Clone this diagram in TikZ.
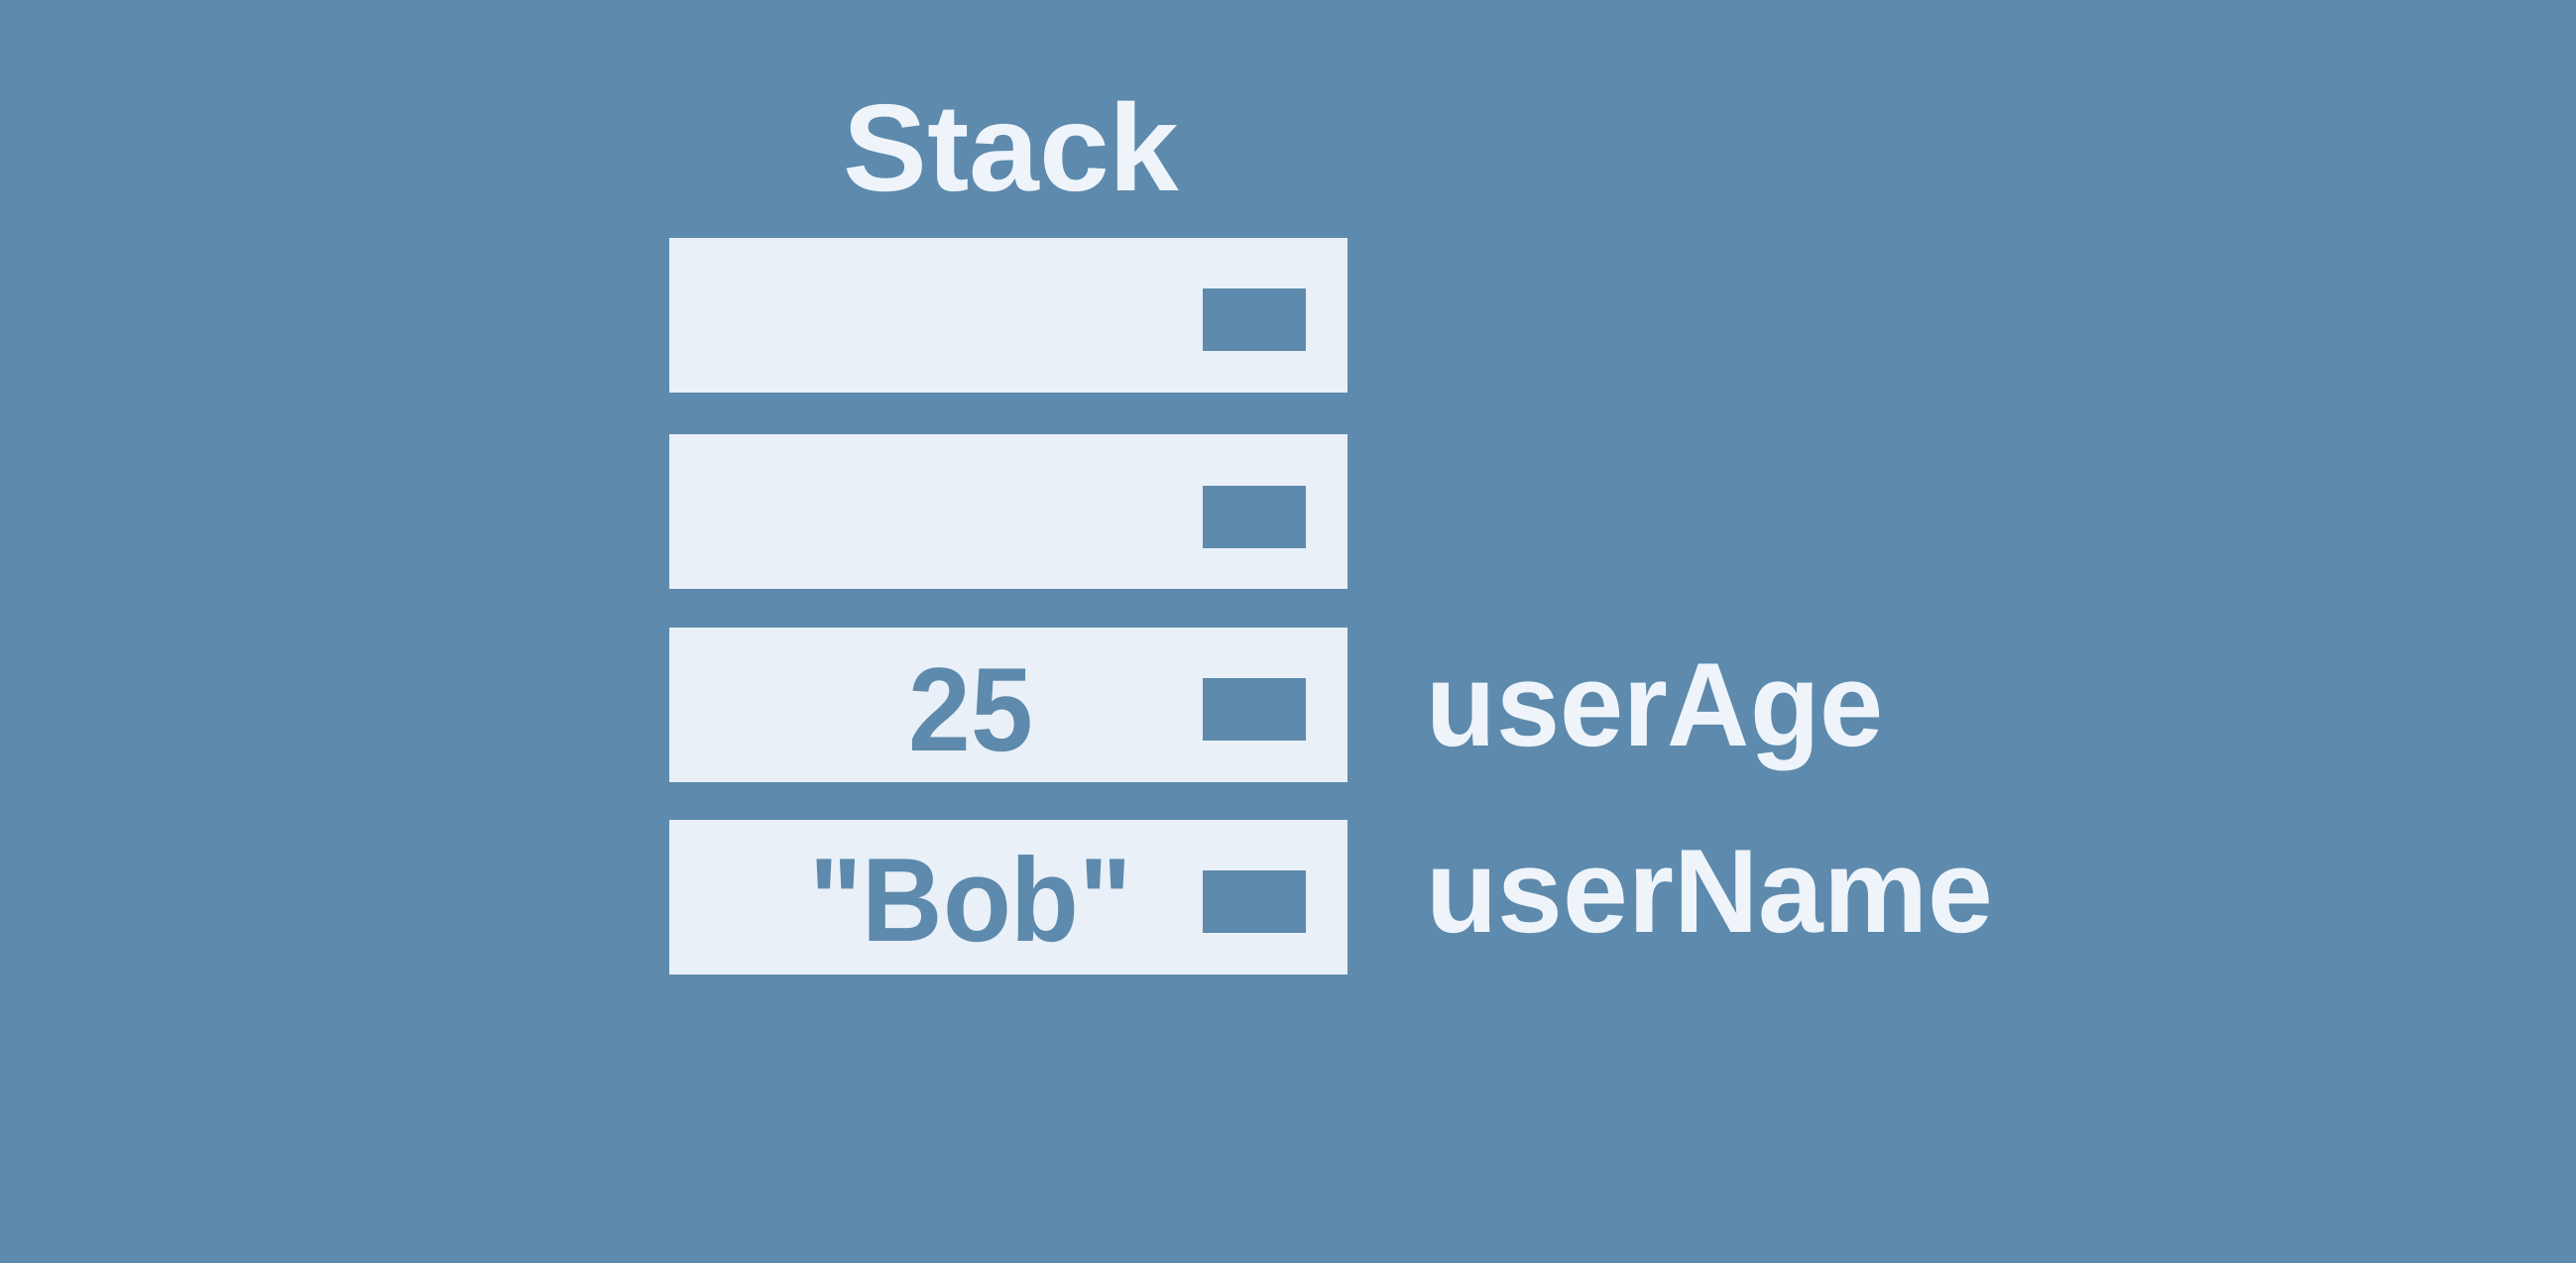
\documentclass[tikz,border=0pt]{standalone}
\usepackage{fontspec}
\setmainfont{Liberation Sans}[Ligatures=TeXOff]
\definecolor{bg}{HTML}{5D8AAD}
\definecolor{cellc}{HTML}{E9F0F7}
\definecolor{txt}{HTML}{EEF4FA}
\begin{document}
\begin{tikzpicture}[x=0.3pt,y=-0.3pt,
  cell/.style={fill=cellc,draw=none,inner sep=0pt,minimum width=205.2pt,minimum height=46.8pt,anchor=north west},
  slot/.style={fill=bg,draw=none,inner sep=0pt,minimum width=31.2pt,minimum height=18.9pt,anchor=north west},
  lbl/.style={font=\fontsize{36}{40}\selectfont\bfseries,inner sep=0pt}]
\fill[bg] (0,0) rectangle (2598,1274);
\useasboundingbox (0,0) rectangle (2598,1274);
\node[cell] (c1) at (674,239) {};
\node[cell] (c2) at (674,437) {};
\node[cell] (c3) at (674,632) {};
\node[cell] (c4) at (674,826) {};
\node[slot] (s1) at (1212,290) {};
\node[slot] (s2) at (1212,489) {};
\node[slot] (s3) at (1212,683) {};
\node[slot] (s4) at (1212,877) {};
\node[lbl,text=txt,anchor=base] (title) at (1020,192) {\scalebox{1.06}[1.04]{Stack}};
\node[lbl,text=bg,anchor=base east] (v3) at (1043,757) {\scalebox{0.94}[1]{25}};
\node[lbl,text=bg,anchor=base east] (v4) at (1143,949) {\scalebox{0.94}[1]{"Bob"}};
\node[lbl,text=txt,anchor=base west] (n3) at (1438,752) {\scalebox{0.96}[1]{userAge}};
\node[lbl,text=txt,anchor=base west] (n4) at (1438,940) {\scalebox{0.985}[1]{userName}};
\end{tikzpicture}
\end{document}
